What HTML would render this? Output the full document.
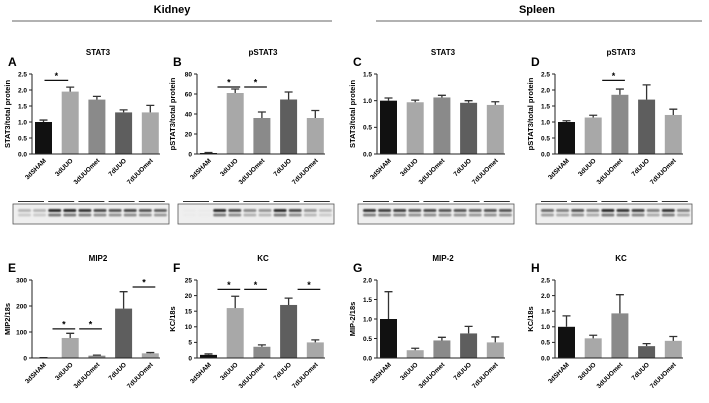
<!DOCTYPE html>
<html><head><meta charset="utf-8"><style>
body{margin:0;background:#fff;}
svg{display:block;font-family:"Liberation Sans",Arial,sans-serif;}
</style></head><body>
<svg id="fig" width="709" height="403" viewBox="0 0 709 403">
<defs><filter id="blur" x="-20%" y="-50%" width="140%" height="200%"><feGaussianBlur stdDeviation="0.7"/></filter></defs>
<text x="172" y="13" font-size="11" font-weight="bold" text-anchor="middle">Kidney</text>
<line x1="12" y1="21" x2="332" y2="21" stroke="#333" stroke-width="0.8"/>
<text x="537" y="13" font-size="11" font-weight="bold" text-anchor="middle">Spleen</text>
<line x1="376" y1="21" x2="702" y2="21" stroke="#333" stroke-width="0.8"/>
</svg>
<script>
const categories = ["3dSHAM","3dUUO","3dUUOmet","7dUUO","7dUUOmet"];
const valsA = [1.0,1.95,1.7,1.3,1.3];
const errA = [0.06,0.14,0.1,0.08,0.22];
const valsB = [1,61,36,54.5,36];
const errB = [0.5,4,6,7.5,7.5];
const valsC = [1.0,0.97,1.06,0.96,0.92];
const errC = [0.05,0.04,0.04,0.04,0.06];
const valsD = [1.0,1.14,1.85,1.7,1.22];
const errD = [0.04,0.07,0.18,0.46,0.18];
const valsE = [1,77,9,190,18];
const errE = [0.5,18,2,65,3];
const valsF = [1,16,3.6,17,5];
const errF = [0.3,3.8,0.6,2.2,0.8];
const valsG = [1.0,0.2,0.45,0.63,0.4];
const errG = [0.7,0.05,0.08,0.18,0.14];
const valsH = [1.0,0.63,1.43,0.38,0.55];
const errH = [0.35,0.1,0.6,0.08,0.14];
const ticksA = ["0.0","0.5","1.0","1.5","2.0","2.5"];
const ticksB = ["0","20","40","60","80"];
const ticksC = ["0.0","0.5","1.0","1.5"];
const ticksE = ["0","100","200","300"];
const ticksF = ["0","5","10","15","20","25"];
const ticksG = ["0.0","0.5","1.0","1.5","2.0"];
const sigA = [[0,1,2.3]];
const sigB = [[0,1,67],[1,2,67]];
const sigD = [[1,2,2.3]];
const sigE = [[0,1,112],[1,2,112],[3,4,273]];
const sigF = [[0,1,22],[1,2,22],[3,4,22]];
const blotA = [0.25,0.25,0.9,0.9,0.85,0.75,0.7,0.75,0.7,0.65];
const blotB = [0,0,0.9,0.75,0.45,0.4,0.9,0.75,0.4,0.25];
const blotC = [0.85,0.8,0.8,0.7,0.75,0.7,0.7,0.65,0.7,0.7];
const blotD = [0.6,0.5,0.7,0.5,0.9,0.85,0.8,0.5,0.85,0.5];

const colors = ["#111","#a8a8a8","#8a8a8a","#5e5e5e","#a8a8a8"];
const NS="http://www.w3.org/2000/svg";
const svg=document.getElementById('fig');
function mk(tag,attrs,parent){const e=document.createElementNS(NS,tag);for(const k in attrs)e.setAttribute(k,attrs[k]);(parent||svg).appendChild(e);return e;}

function panel(p){
  const g=mk('g',{});
  
  
  const ax=p.ax, top=p.top, bot=p.bot, maxV=parseFloat(p.ticks[p.ticks.length-1]);
  const y=v=>bot-(v/maxV)*(bot-top);
  const xc=i=>ax+11.5+i*26.7;
  const lt=mk('text',{x:ax-24,y:top-8,'font-size':12,'font-weight':'bold'},g);lt.textContent=p.letter;
  
  
  const tt=mk('text',{x:ax+66,y:top-19,'font-size':8,'font-weight':'bold','text-anchor':'middle'},g);tt.textContent=p.title;
  
  
  const yl=mk('text',{x:0,y:0,'font-size':7.5,'font-weight':'bold','text-anchor':'middle',transform:`translate(${ax-22},${(top+bot)/2}) rotate(-90)`},g);yl.textContent=p.ylabel;
  
  
  p.vals.forEach((v,i)=>{
    const b=mk('rect',{x:xc(i)-8.5,y:y(v),width:17,height:bot-y(v),fill:colors[i]},g);
    
    
    const ey=y(v+p.err[i]);
    const e=mk('path',{d:`M${xc(i)},${y(v)}V${ey}M${xc(i)-4},${ey}H${xc(i)+4}`,stroke:'#333','stroke-width':1.3,fill:'none'},g);
    
    
    const tl=mk('text',{x:0,y:0,'font-size':6.5,'font-weight':'bold','text-anchor':'end',transform:`translate(${xc(i)+3},${bot+7}) rotate(-45)`},g);tl.textContent=categories[i];
    
    
  });
  const axl=mk('path',{d:`M${ax},${top}V${bot}H${ax+128}`,stroke:'#222','stroke-width':1,fill:'none'},g);
  
  
  p.ticks.forEach(t=>{
    const yy=y(parseFloat(t));
    mk('line',{x1:ax-3,x2:ax,y1:yy,y2:yy,stroke:'#222','stroke-width':1},g);
    const tx=mk('text',{x:ax-5,y:yy+2.3,'font-size':6.5,'font-weight':'bold','text-anchor':'end'},g);tx.textContent=t;
    
    
  });
  const sigs=p.sig||[];
  sigs.forEach(s=>{
    const yy=y(s[2]);
    const single = sigs.length===1 && p.letter==='A';
    const x1 = single ? xc(s[0])+1 : xc(s[0])+9;
    const x2 = single ? xc(s[1])-2 : xc(s[1])+5;
    const l=mk('line',{x1:x1,x2:x2,y1:yy,y2:yy,stroke:'#111','stroke-width':1.2},g);
    
    
    const st=mk('text',{x:(x1+x2)/2,y:yy-1.5,'font-size':9,'font-weight':'bold','text-anchor':'middle'},g);st.textContent='*';
    
    
  });
  if(p.blot){
    const bx=ax-19;
    const box=mk('rect',{x:bx,y:204,width:156,height:20,fill:'#efefef',stroke:'#555','stroke-width':0.8},g);
    
    
    for(let k=0;k<5;k++) mk('line',{x1:bx+5+k*30.2,x2:bx+31+k*30.2,y1:201.5,y2:201.5,stroke:'#333','stroke-width':0.9},g);
    const bg=mk('g',{filter:'url(#blur)'},g);
    p.blot.forEach((d,i)=>{
      const lx=bx+5+i*15.1;
      const c=Math.round(235-d*210);
      mk('rect',{x:lx,y:209,width:13,height:3,rx:1.5,fill:`rgb(${c},${c},${c})`},bg);
      const c2=Math.round(235-d*120);
      mk('rect',{x:lx,y:213.5,width:13,height:3,rx:1.5,fill:`rgb(${c2},${c2},${c2})`},bg);
    });
  }
}
const T=74,B=154,T2=280,B2=358;
panel({letter:'A',title:'STAT3',ylabel:'STAT3/total protein',ax:32,top:T,bot:B,vals:valsA,err:errA,ticks:ticksA,sig:sigA,blot:blotA});
panel({letter:'B',title:'pSTAT3',ylabel:'pSTAT3/total protein',ax:197,top:T,bot:B,vals:valsB,err:errB,ticks:ticksB,sig:sigB,blot:blotB});
panel({letter:'C',title:'STAT3',ylabel:'STAT3/total protein',ax:377,top:T,bot:B,vals:valsC,err:errC,ticks:ticksC,blot:blotC});
panel({letter:'D',title:'pSTAT3',ylabel:'pSTAT3/total protein',ax:555,top:T,bot:B,vals:valsD,err:errD,ticks:ticksA,sig:sigD,blot:blotD});
panel({letter:'E',title:'MIP2',ylabel:'MIP2/18s',ax:32,top:T2,bot:B2,vals:valsE,err:errE,ticks:ticksE,sig:sigE});
panel({letter:'F',title:'KC',ylabel:'KC/18s',ax:197,top:T2,bot:B2,vals:valsF,err:errF,ticks:ticksF,sig:sigF});
panel({letter:'G',title:'MIP-2',ylabel:'MIP-2/18s',ax:377,top:T2,bot:B2,vals:valsG,err:errG,ticks:ticksG});
panel({letter:'H',title:'KC',ylabel:'KC/18s',ax:555,top:T2,bot:B2,vals:valsH,err:errH,ticks:ticksA});
</script>
</body></html>
